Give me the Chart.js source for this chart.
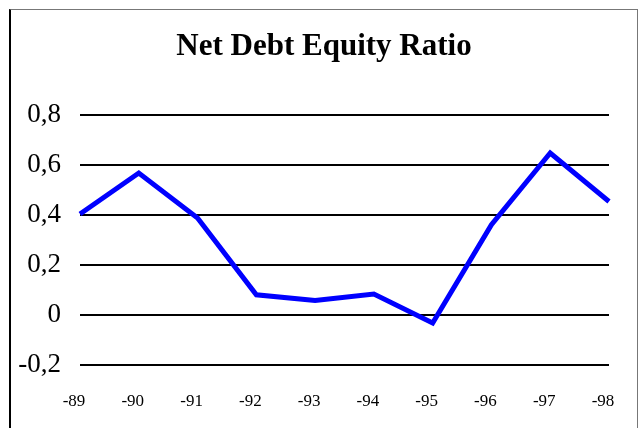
<!DOCTYPE html>
<html>
<head>
<meta charset="utf-8">
<script src="https://cdn.jsdelivr.net/npm/chart.js@4"></script>
<style>
  html, body { margin: 0; padding: 0; background: #fff; }
  #wrap { position: relative; width: 639px; height: 428px; overflow: hidden; }
  #frame {
    position: absolute; left: 9px; top: 9px; width: 626px; height: 440px;
    border-top: 1px solid #777; border-right: 1px solid #777; border-left: 2px solid #000;
    pointer-events: none;
  }
</style>
</head>
<body>
<div id="wrap">
  <canvas id="chart" width="639" height="428"></canvas>
  <div id="frame"></div>
</div>
<script>
/* data */
const years = ['-89', '-90', '-91', '-92', '-93', '-94', '-95', '-96', '-97', '-98'];
const ratio = [0.404, 0.568, 0.388, 0.081, 0.058, 0.084, -0.032, 0.361, 0.648, 0.454];
const chartTitle = 'Net Debt Equity Ratio';

const serif = "'Liberation Serif', 'Times New Roman', serif";

// title is centred on the framed box, not on the canvas
const titlePlugin = {
  id: 'frameTitle',
  afterDraw(chart) {
    const ctx = chart.ctx;
    ctx.save();
    ctx.font = 'bold 31px ' + serif;
    ctx.fillStyle = '#000';
    ctx.textAlign = 'center';
    ctx.textBaseline = 'middle';
    ctx.fillText(chartTitle, 324, 47);
    ctx.restore();
  }
};

new Chart(document.getElementById('chart'), {
  type: 'line',
  data: {
    labels: years,
    datasets: [{
      label: chartTitle,
      data: ratio,
      borderColor: '#0000ff',
      borderWidth: 5,
      pointRadius: 0,
      tension: 0,
      fill: false
    }]
  },
  options: {
    responsive: false,
    animation: false,
    layout: { padding: { left: 0, right: 30, top: 115, bottom: 0 } },
    plugins: {
      legend: { display: false },
      tooltip: { enabled: false },
      title: { display: false }
    },
    scales: {
      x: {
        offset: false,
        afterFit: (s) => { s.height = 63; s.paddingLeft = 0; s.paddingRight = 0; },
        grid: { display: false, drawTicks: false },
        border: { display: false },
        ticks: {
          color: '#000',
          font: { family: serif, size: 17 },
          padding: 26,
          labelOffset: -6,
          maxRotation: 0,
          autoSkip: false
        }
      },
      y: {
        min: -0.2,
        max: 0.8,
        afterFit: (s) => { s.width = 80; s.paddingTop = 0; },
        grid: { color: '#000', lineWidth: 2, drawTicks: false },
        border: { display: false },
        ticks: {
          stepSize: 0.2,
          color: '#000',
          padding: 19,
          font: { family: serif, size: 27 },
          callback: (v) => String(Math.round(v * 10) / 10).replace('.', ',')
        }
      }
    }
  },
  plugins: [titlePlugin]
});
</script>
</body>
</html>
